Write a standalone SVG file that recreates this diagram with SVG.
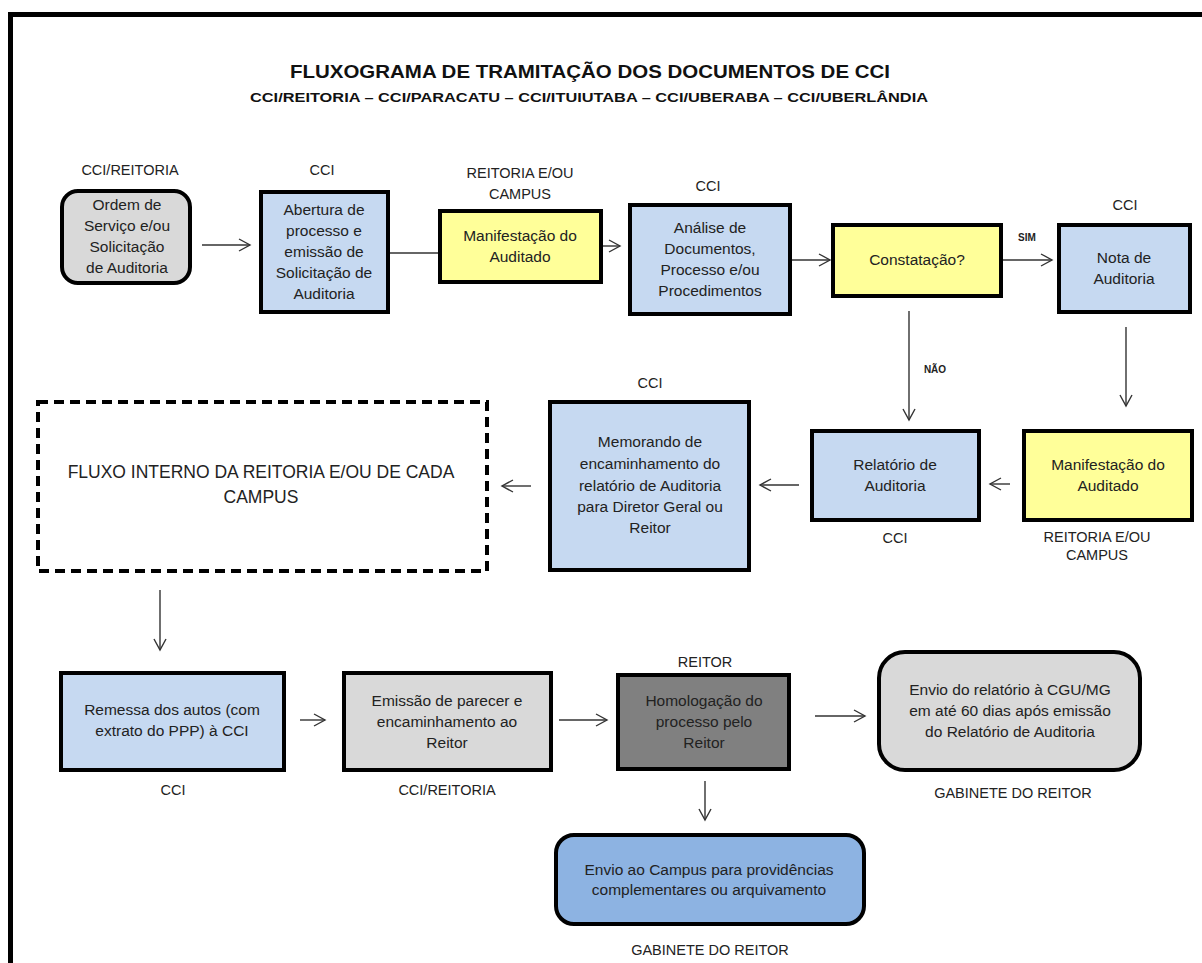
<svg xmlns="http://www.w3.org/2000/svg" width="1202" height="963" viewBox="0 0 1202 963">
<defs>
<style>
.t{font-family:"Liberation Sans",Arial,sans-serif;font-size:15.5px;fill:#222;text-anchor:middle}
.lb{font-family:"Liberation Sans",Arial,sans-serif;font-size:14.5px;fill:#222;text-anchor:middle}
.sm{font-family:"Liberation Sans",Arial,sans-serif;font-size:10px;font-weight:bold;fill:#222;text-anchor:middle}
.box{stroke:#000;stroke-width:4}
.blue{fill:#c6d9f1}
.yel{fill:#ffff99}
.gry{fill:#d9d9d9}
.dk{fill:#808080}
.mid{fill:#8db3e2}
.c{stroke:#333;stroke-width:1.4;fill:none}
</style>
<marker id="ah" markerUnits="userSpaceOnUse" markerWidth="14" markerHeight="16" refX="12" refY="7" orient="auto">
<path d="M1,1 L12,7 L1,13" fill="none" stroke="#333" stroke-width="1.4"/>
</marker>
</defs>
<rect x="0" y="0" width="1202" height="963" fill="#fff"/>
<rect x="8" y="12" width="1194" height="5" fill="#000"/>
<rect x="8" y="12" width="5" height="951" fill="#000"/>

<g id="title">
<text x="590" y="78" font-family="'Liberation Sans',Arial,sans-serif" font-size="19" font-weight="bold" fill="#111" text-anchor="middle" textLength="600" lengthAdjust="spacingAndGlyphs">FLUXOGRAMA DE TRAMITAÇÃO DOS DOCUMENTOS  DE CCI</text>
<text x="589" y="102" font-family="'Liberation Sans',Arial,sans-serif" font-size="13.5" font-weight="bold" fill="#111" text-anchor="middle" textLength="678" lengthAdjust="spacingAndGlyphs">CCI/REITORIA  – CCI/PARACATU – CCI/ITUIUTABA – CCI/UBERABA – CCI/UBERLÂNDIA</text>
</g>

<g id="connectors">
<line class="c" x1="202" y1="245" x2="250" y2="245" marker-end="url(#ah)"/>
<line class="c" x1="390" y1="253" x2="440" y2="253"/>
<line class="c" x1="603" y1="246" x2="620" y2="246" marker-end="url(#ah)"/>
<line class="c" x1="792" y1="260" x2="830" y2="260" marker-end="url(#ah)"/>
<line class="c" x1="1003" y1="260" x2="1052" y2="260" marker-end="url(#ah)"/>
<text class="sm" x="1027" y="241">SIM</text>
<line class="c" x1="909" y1="311" x2="909" y2="420" marker-end="url(#ah)"/>
<text class="sm" x="935" y="373">NÃO</text>
<line class="c" x1="1126" y1="327" x2="1126" y2="406" marker-end="url(#ah)"/>
<line class="c" x1="1010" y1="484" x2="990" y2="484" marker-end="url(#ah)"/>
<line class="c" x1="799" y1="485" x2="760" y2="485" marker-end="url(#ah)"/>
<line class="c" x1="531" y1="486" x2="502" y2="486" marker-end="url(#ah)"/>
<line class="c" x1="160" y1="590" x2="160" y2="650" marker-end="url(#ah)"/>
<line class="c" x1="300" y1="720" x2="325" y2="720" marker-end="url(#ah)"/>
<line class="c" x1="559" y1="720" x2="607" y2="720" marker-end="url(#ah)"/>
<line class="c" x1="815" y1="716" x2="865" y2="716" marker-end="url(#ah)"/>
<line class="c" x1="705" y1="781" x2="705" y2="820" marker-end="url(#ah)"/>
</g>

<g id="n1">
<text class="lb" x="130" y="175">CCI/REITORIA</text>
<rect class="box gry" x="62" y="191" width="128" height="92" rx="16"/>
<text class="t" x="127" y="210">Ordem de</text>
<text class="t" x="127" y="231">Serviço e/ou</text>
<text class="t" x="127" y="252">Solicitação</text>
<text class="t" x="127" y="273">de Auditoria</text>
</g>

<g id="n2">
<text class="lb" x="322" y="175">CCI</text>
<rect class="box blue" x="261" y="192" width="127" height="120"/>
<text class="t" x="324" y="215">Abertura de</text>
<text class="t" x="324" y="236">processo e</text>
<text class="t" x="324" y="257">emissão de</text>
<text class="t" x="324" y="278">Solicitação de</text>
<text class="t" x="324" y="299">Auditoria</text>
</g>

<g id="n3">
<text class="lb" x="520" y="178">REITORIA E/OU</text>
<text class="lb" x="520" y="199">CAMPUS</text>
<rect class="box yel" x="440" y="211" width="161" height="71"/>
<text class="t" x="520" y="241">Manifestação do</text>
<text class="t" x="520" y="262">Auditado</text>
</g>

<g id="n4">
<text class="lb" x="708" y="191">CCI</text>
<rect class="box blue" x="630" y="205" width="160" height="109"/>
<text class="t" x="710" y="233">Análise de</text>
<text class="t" x="710" y="254">Documentos,</text>
<text class="t" x="710" y="275">Processo e/ou</text>
<text class="t" x="710" y="296">Procedimentos</text>
</g>

<g id="n5">
<rect class="box yel" x="833" y="225" width="168" height="71"/>
<text class="t" x="917" y="265">Constatação?</text>
</g>

<g id="n6">
<text class="lb" x="1125" y="210">CCI</text>
<rect class="box blue" x="1059" y="225" width="131" height="87"/>
<text class="t" x="1124" y="263">Nota de</text>
<text class="t" x="1124" y="284">Auditoria</text>
</g>

<g id="n7">
<rect class="box yel" x="1024" y="431" width="168" height="89"/>
<text class="t" x="1108" y="470">Manifestação do</text>
<text class="t" x="1108" y="491">Auditado</text>
<text class="lb" x="1097" y="542">REITORIA E/OU</text>
<text class="lb" x="1097" y="560">CAMPUS</text>
</g>

<g id="n8">
<rect class="box blue" x="812" y="431" width="167" height="89"/>
<text class="t" x="895" y="470">Relatório de</text>
<text class="t" x="895" y="491">Auditoria</text>
<text class="lb" x="895" y="543">CCI</text>
</g>

<g id="n9">
<text class="lb" x="650" y="388">CCI</text>
<rect class="box blue" x="550" y="402" width="199" height="168"/>
<text class="t" x="650" y="447">Memorando de</text>
<text class="t" x="650" y="469">encaminhamento do</text>
<text class="t" x="650" y="491">relatório de  Auditoria</text>
<text class="t" x="650" y="512">para Diretor Geral ou</text>
<text class="t" x="650" y="533">Reitor</text>
</g>

<g id="n10">
<rect x="38" y="402" width="449" height="169" fill="none" stroke="#000" stroke-width="4" stroke-dasharray="10,6"/>
<text x="261" y="478" font-family="'Liberation Sans',Arial,sans-serif" font-size="17.5" fill="#222" text-anchor="middle">FLUXO INTERNO DA REITORIA E/OU DE CADA</text>
<text x="261" y="503" font-family="'Liberation Sans',Arial,sans-serif" font-size="17.5" fill="#222" text-anchor="middle">CAMPUS</text>
</g>

<g id="n11">
<rect class="box blue" x="61" y="673" width="223" height="97"/>
<text class="t" x="172" y="715">Remessa dos autos (com</text>
<text class="t" x="172" y="736">extrato do PPP) à CCI</text>
<text class="lb" x="173" y="795">CCI</text>
</g>

<g id="n12">
<rect class="box gry" x="344" y="673" width="207" height="97"/>
<text class="t" x="447" y="706">Emissão de parecer e</text>
<text class="t" x="447" y="727">encaminhamento ao</text>
<text class="t" x="447" y="748">Reitor</text>
<text class="lb" x="447" y="795">CCI/REITORIA</text>
</g>

<g id="n13">
<text class="lb" x="705" y="667">REITOR</text>
<rect class="box dk" x="618" y="675" width="171" height="94"/>
<text class="t" x="704" y="706">Homologação do</text>
<text class="t" x="704" y="727">processo pelo</text>
<text class="t" x="704" y="748">Reitor</text>
</g>

<g id="n14">
<rect class="box gry" x="879" y="652" width="261" height="118" rx="26"/>
<text class="t" x="1010" y="695">Envio do relatório à CGU/MG</text>
<text class="t" x="1010" y="716">em até 60 dias após emissão</text>
<text class="t" x="1010" y="737">do Relatório de Auditoria</text>
<text class="lb" x="1013" y="798">GABINETE DO REITOR</text>
</g>

<g id="n15">
<rect class="box mid" x="556" y="835" width="308" height="89" rx="18"/>
<text class="t" x="709" y="875">Envio ao Campus para providências</text>
<text class="t" x="709" y="895">complementares ou arquivamento</text>
<text class="lb" x="710" y="955">GABINETE DO REITOR</text>
</g>
</svg>
